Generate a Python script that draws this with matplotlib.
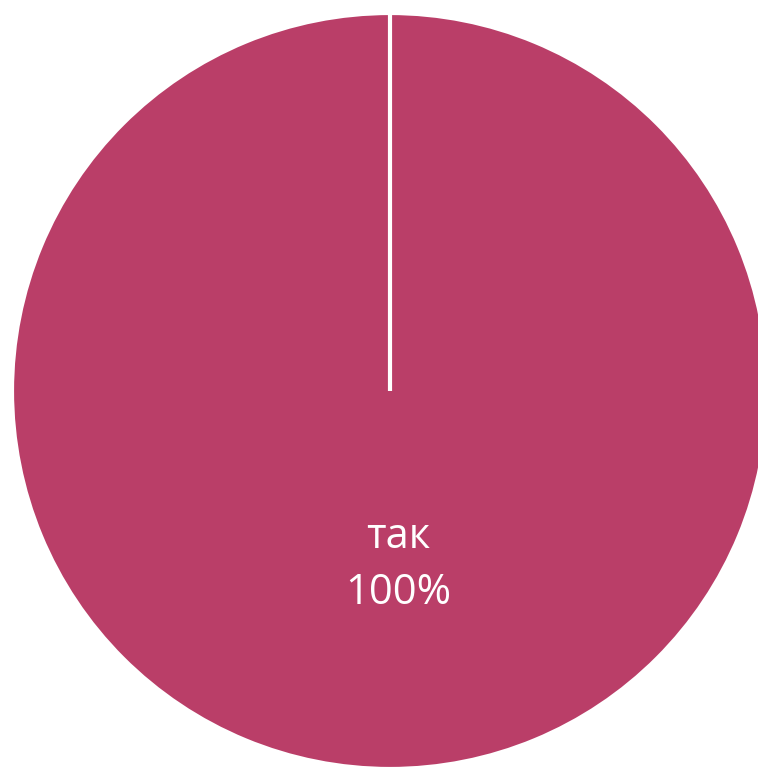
import matplotlib
matplotlib.use("Agg")
import matplotlib.pyplot as plt

categories = ["так"]
values = [100]

fig = plt.figure(figsize=(7.58, 7.69), dpi=100)
ax = fig.add_axes([0, 0, 1, 1])
ax.set_xlim(0, 758)
ax.set_ylim(0, 769)
ax.set_aspect("equal")
ax.axis("off")


def label(pct):
    return f"{categories[0]}\n{pct:.0f}%"


wedges, texts, autotexts = ax.pie(
    values,
    center=(390, 378),
    radius=378,
    startangle=90,
    counterclock=False,
    colors=["#BA3E68"],
    wedgeprops={"edgecolor": "white", "linewidth": 3},
    autopct=label,
    pctdistance=0.46,
    textprops={"color": "white", "fontsize": 30, "family": "Open Sans"},
)
for t in autotexts:
    t.set_linespacing(1.45)
    t.set_x(t.get_position()[0] + 8)

# a full-circle wedge has no radial edge, so draw the slice border at the start angle
for w in wedges:
    cx, cy = w.center
    ax.plot([cx, cx], [cy, cy + w.r], color="white", linewidth=3,
            solid_capstyle="butt", zorder=w.get_zorder() + 1)

ax.set_xlim(0, 758)
ax.set_ylim(0, 769)

fig.savefig("out.png", dpi=100)
